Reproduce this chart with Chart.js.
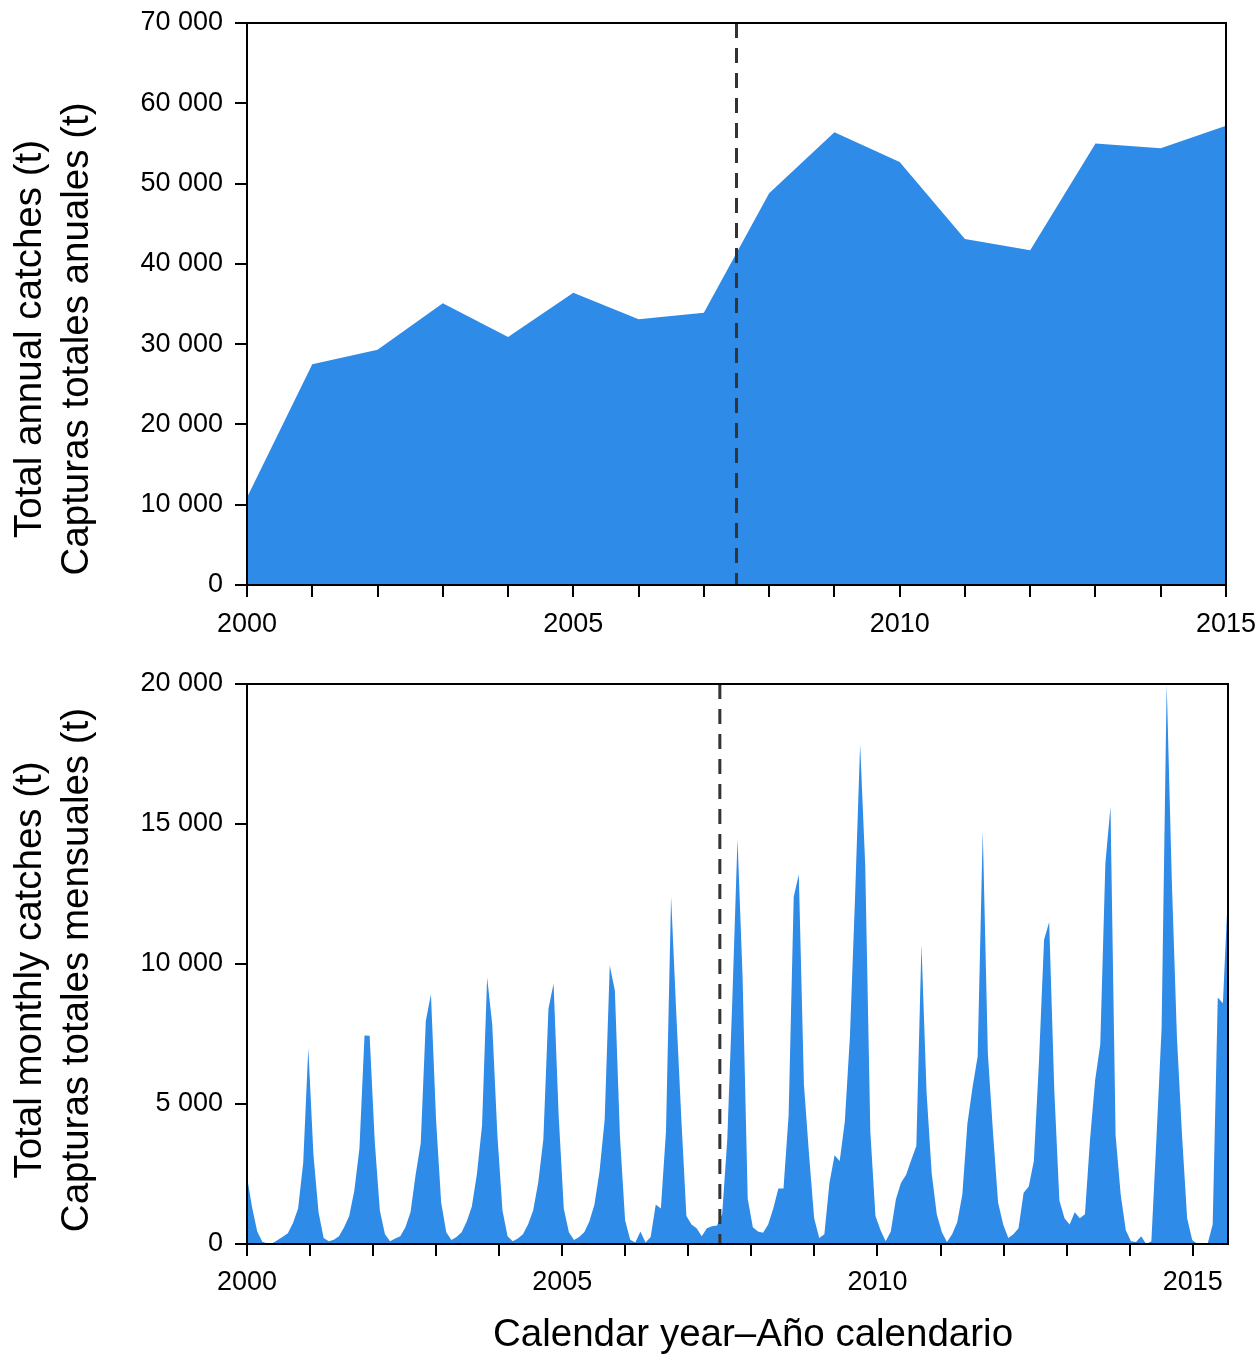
<!DOCTYPE html>
<html><head><meta charset="utf-8">
<script src="https://cdn.jsdelivr.net/npm/chart.js@4"></script>
<style>
html,body{margin:0;padding:0;background:#fff;}
#wrap{position:relative;width:1260px;height:1354px;overflow:hidden;}
#c1{position:absolute;left:0;top:0;}
#c2{position:absolute;left:0;top:655px;}
</style></head><body>
<div id="wrap">
<canvas id="c1" width="1260" height="655"></canvas>
<canvas id="c2" width="1260" height="699"></canvas>
</div>
<script>
// ---------- DATA ----------
const annualYears = [2000,2001,2002,2003,2004,2005,2006,2007,2008,2009,2010,2011,2012,2013,2014,2015];
const annualCatch = [10900,27500,29300,35100,30900,36400,33100,33900,48800,56400,52700,43100,41700,55000,54400,57200];

const monthlyCatch = [
  2400,1300,450,80,20,30,140,260,380,750,1270,2900,
  7000,3200,1130,210,100,150,280,600,1000,1900,3400,7450,
  7440,3670,1200,350,100,200,280,600,1130,2470,3600,7970,
  8920,4440,1480,420,140,250,420,800,1340,2500,4230,9520,
  7830,3900,1200,280,100,200,350,700,1200,2200,3740,8400,
  9300,4580,1270,420,140,250,420,800,1410,2600,4440,9950,
  9050,3800,850,150,50,450,50,250,1410,1270,4020,12400,
  8300,4500,1000,700,560,280,560,630,660,1060,3740,8800,
  14460,9500,1620,600,450,400,700,1270,1980,1980,4580,12400,
  13200,5700,3200,920,210,350,2190,3170,2960,4370,7400,12350,
  17850,13500,4000,1000,490,100,450,1600,2190,2470,3000,3500,
  10700,5430,2540,1060,420,70,350,780,1760,4300,5600,6700,
  14750,6800,4000,1480,700,210,350,560,1830,2050,2960,6500,
  10870,11500,5500,1550,920,700,1130,920,1060,3740,5860,7130,
  13600,15620,3880,1760,490,100,70,280,0,100,3800,7700,
  20000,13000,7400,3880,920,140,0,0,0,700,8800,8600,
  12600
];
const monthLabels = monthlyCatch.map((_, k) => (2000 + Math.floor(k / 12)) + '-' + String(k % 12 + 1).padStart(2, '0'));

const annualYTicks = { min: 0, max: 70000, step: 10000 };
const monthlyYTicks = { min: 0, max: 20000, step: 5000 };
const yearAxis = { first: 2000, labelEvery: 5, split: 2007.5 };

const annualTitle = ['Total annual catches (t)', 'Capturas totales anuales (t)'];
const monthlyTitle = ['Total monthly catches (t)', 'Capturas totales mensuales (t)'];
const xTitle = 'Calendar year\u2013A\u00f1o calendario';

// ---------- STYLE ----------
const FONT = '"Liberation Sans", Arial, Helvetica, sans-serif';
const BLUE = '#2F8BE8';
const TICK_SIZE = 27;
const TITLE_SIZE = 38.5;
Chart.defaults.font.family = FONT;
Chart.defaults.color = '#000';
const fmt = v => String(v).replace(/\B(?=(\d{3})+(?!\d))/g, ' ');

const framePlugin = {
  id: 'frame',
  afterDraw(chart) {
    const { ctx, chartArea: a } = chart;
    ctx.save();
    ctx.strokeStyle = '#000';
    ctx.lineWidth = 2;
    ctx.strokeRect(a.left, a.top, a.right - a.left, a.bottom - a.top);
    ctx.restore();
  }
};
function dashPlugin(scaleId, value) {
  return {
    id: 'dash',
    afterDatasetsDraw(chart) {
      const { ctx, chartArea: a } = chart;
      const x = chart.scales[scaleId].getPixelForValue(value);
      ctx.save();
      ctx.strokeStyle = '#333';
      ctx.lineWidth = 3;
      ctx.setLineDash([15, 10]);
      ctx.beginPath();
      ctx.moveTo(x, a.top);
      ctx.lineTo(x, a.bottom);
      ctx.stroke();
      ctx.restore();
    }
  };
}
function yTitlePlugin(lines, xs, cyOffset) {
  return {
    id: 'ytitle',
    afterDraw(chart) {
      const { ctx, chartArea: a } = chart;
      const cy = (a.top + a.bottom) / 2 + cyOffset;
      ctx.save();
      ctx.font = TITLE_SIZE + 'px ' + FONT;
      ctx.fillStyle = '#000';
      ctx.textAlign = 'center';
      ctx.textBaseline = 'middle';
      lines.forEach((t, i) => {
        ctx.save();
        ctx.translate(xs[i], cy);
        ctx.rotate(-Math.PI / 2);
        ctx.fillText(t, 0, 0);
        ctx.restore();
      });
      ctx.restore();
    }
  };
}
const xTitlePlugin = {
  id: 'xtitle',
  afterDraw(chart) {
    const { ctx } = chart;
    ctx.save();
    ctx.font = TITLE_SIZE + 'px ' + FONT;
    ctx.fillStyle = '#000';
    ctx.textAlign = 'center';
    ctx.textBaseline = 'middle';
    ctx.fillText(xTitle, 753, 680);
    ctx.restore();
  }
};

const tickGrid = { drawOnChartArea: false, drawTicks: true, tickLength: 12, color: '#000', lineWidth: 2 };
const yearTickCb = v => ((v - yearAxis.first) % yearAxis.labelEvery === 0 ? String(v) : '');
const noPad = s => { s.paddingTop = 0; s.paddingBottom = 0; s.paddingLeft = 0; s.paddingRight = 0; };

// ---------- TOP CHART ----------
new Chart(document.getElementById('c1'), {
  type: 'line',
  data: {
    datasets: [{
      data: annualYears.map((y, i) => ({ x: y, y: annualCatch[i] })),
      fill: 'origin',
      backgroundColor: BLUE,
      borderWidth: 0,
      pointRadius: 0,
      tension: 0
    }]
  },
  options: {
    responsive: false,
    animation: false,
    events: [],
    layout: { padding: { left: 107, right: 34, top: 23, bottom: 0 } },
    plugins: { legend: { display: false }, tooltip: { enabled: false } },
    scales: {
      x: {
        type: 'linear',
        min: annualYears[0], max: annualYears[annualYears.length - 1],
        grid: tickGrid,
        border: { display: false },
        ticks: { stepSize: 1, includeBounds: false, autoSkip: false, maxRotation: 0, padding: 11, font: { size: TICK_SIZE }, callback: yearTickCb },
        afterFit: s => { s.height = 70; noPad(s); }
      },
      y: {
        min: annualYTicks.min, max: annualYTicks.max,
        grid: tickGrid,
        border: { display: false },
        ticks: { stepSize: annualYTicks.step, padding: 12, font: { size: TICK_SIZE }, callback: v => fmt(v) },
        afterFit: s => { s.width = 140; noPad(s); }
      }
    }
  },
  plugins: [framePlugin, dashPlugin('x', yearAxis.split), yTitlePlugin(annualTitle, [30, 77], 35)]
});

// ---------- BOTTOM CHART ----------
new Chart(document.getElementById('c2'), {
  type: 'line',
  data: {
    labels: monthLabels,
    datasets: [{
      data: monthlyCatch,
      fill: 'origin',
      backgroundColor: BLUE,
      borderWidth: 0,
      pointRadius: 0,
      tension: 0,
      xAxisID: 'x'
    }]
  },
  options: {
    responsive: false,
    animation: false,
    events: [],
    layout: { padding: { left: 107, right: 32, top: 29, bottom: 0 } },
    plugins: { legend: { display: false }, tooltip: { enabled: false } },
    scales: {
      x: { type: 'category', display: false, offset: false },
      xYear: {
        type: 'linear',
        position: 'bottom',
        min: 2000, max: 2015.56,
        grid: tickGrid,
        border: { display: false },
        ticks: { stepSize: 1, includeBounds: false, autoSkip: false, maxRotation: 0, padding: 10, font: { size: TICK_SIZE }, callback: yearTickCb },
        afterFit: s => { s.height = 110; noPad(s); }
      },
      y: {
        min: monthlyYTicks.min, max: monthlyYTicks.max,
        grid: tickGrid,
        border: { display: false },
        ticks: { stepSize: monthlyYTicks.step, padding: 12, font: { size: TICK_SIZE }, callback: v => fmt(v) },
        afterFit: s => { s.width = 140; noPad(s); }
      }
    }
  },
  plugins: [framePlugin, dashPlugin('xYear', yearAxis.split), yTitlePlugin(monthlyTitle, [30, 77], 6), xTitlePlugin]
});
</script>
</body></html>
